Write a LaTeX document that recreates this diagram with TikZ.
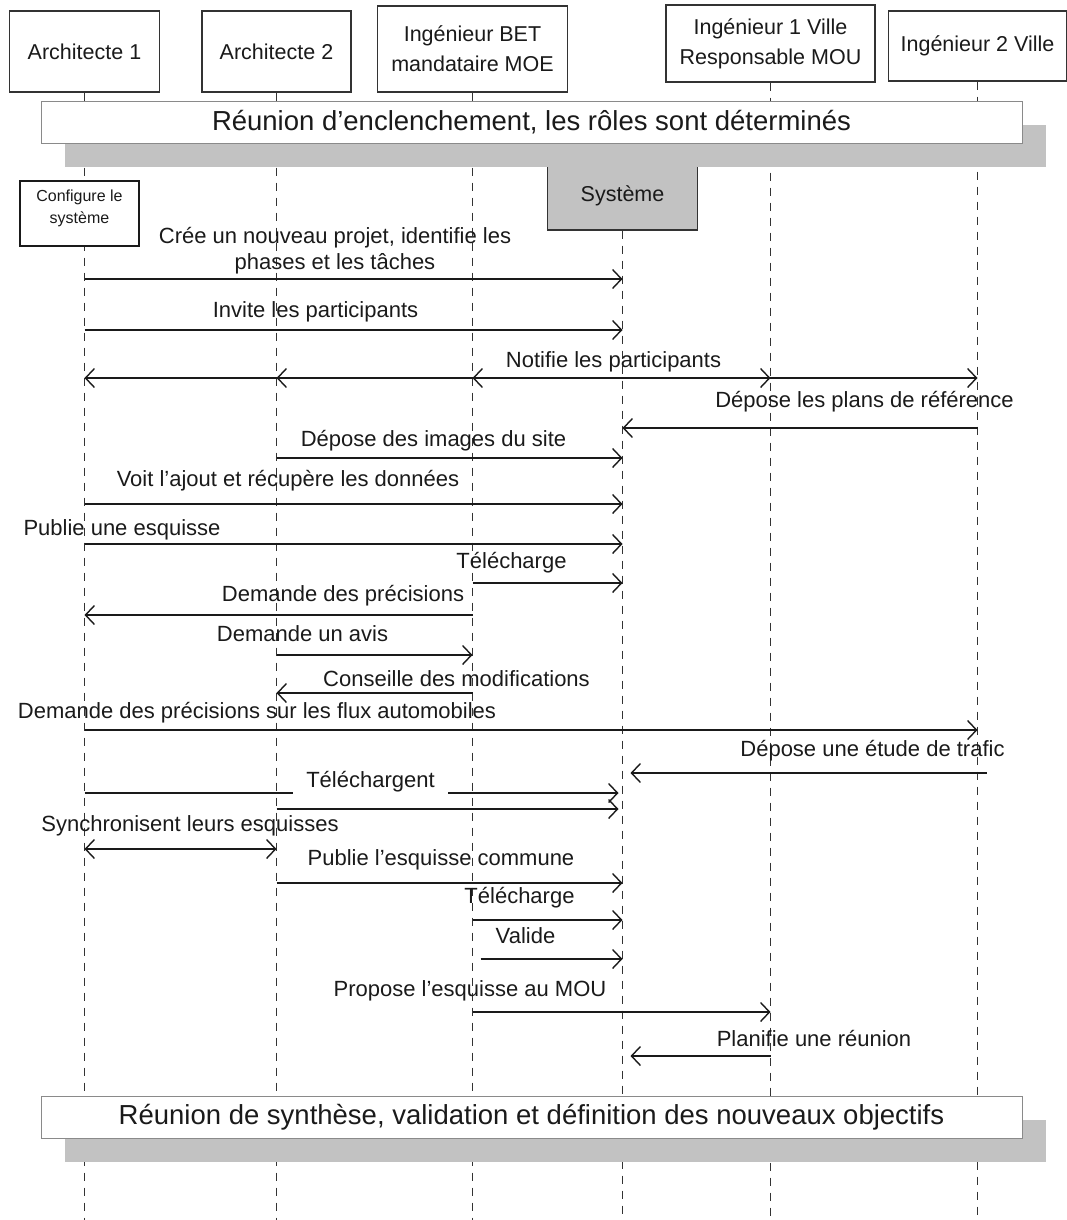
\documentclass[tikz,border=0pt]{standalone}
\usepackage{fontspec}
\setmainfont{Liberation Sans}
\usetikzlibrary{arrows.meta,shadows}
\definecolor{ink}{HTML}{1A1A1A}
\definecolor{boxline}{HTML}{333333}
\definecolor{meetline}{HTML}{8A8A8A}
\definecolor{shadowgray}{HTML}{C2C2C2}
\begin{document}
\begin{tikzpicture}[x=1pt,y=-1pt,
  hdr/.style={draw=boxline, line width=1.3pt, fill=white, align=center,
    font=\fontsize{21.5}{30}\selectfont, text=ink, inner sep=0pt},
  life/.style={draw=boxline, line width=1pt, dash pattern=on 8pt off 7pt},
  tip/.tip={Straight Barb[length=9pt,width=19pt,line width=1.4pt]},
  msg/.style={draw=ink, line width=1.5pt, -tip},
  dbl/.style={draw=ink, line width=1.5pt, tip-tip},
  lbl/.style={font=\fontsize{22}{26}\selectfont, text=ink, inner sep=0pt,
    text height=16pt, text depth=5pt},
  meet/.style={draw=meetline, line width=1pt, fill=white,
    font=\fontsize{27.5}{32}\selectfont, text=ink, inner sep=0pt,
    minimum width=981pt, minimum height=42pt,
    general shadow={fill=shadowgray, shadow xshift=23.5pt, shadow yshift=-23.5pt}}
]
\useasboundingbox (0,0) rectangle (1067,1220);

% actors
\node[hdr, minimum width=150pt, minimum height=81pt] (A1) at (84.5,51.5) {Architecte 1};
\node[hdr, minimum width=149pt, minimum height=81pt] (A2) at (276.5,51.5) {Architecte 2};
\node[hdr, minimum width=190pt, minimum height=86pt] (BET) at (472.5,49) {Ingénieur BET\\mandataire MOE};
\node[hdr, minimum width=209pt, minimum height=77pt] (I1) at (770.5,43.5) {Ingénieur 1 Ville\\Responsable MOU};
\node[hdr, minimum width=178pt, minimum height=70pt] (I2) at (977.5,46) {Ingénieur 2 Ville};
\node[hdr, fill=shadowgray, minimum width=150pt, minimum height=69pt] (Sys) at (622.5,195.5) {Système};

% lifelines
\draw[life] (A1.south) -- (A1 |- 0,1220);
\draw[life] (A2.south) -- (A2 |- 0,1220);
\draw[life] (BET.south) -- (BET |- 0,1220);
\draw[life] (I1.south) -- (I1 |- 0,1220);
\draw[life] (I2.south) -- (I2 |- 0,1220);
\draw[life] (Sys.south) -- (Sys |- 0,1220);

% meetings
\node[meet] (M1) at (531.5,122.5) {Réunion d’enclenchement, les rôles sont déterminés};
\node[meet] (M2) at (531.5,1117.5) {Réunion de synthèse, validation et définition des nouveaux objectifs};

% configure box
\node[draw=ink, line width=1.4pt, fill=white, minimum width=119pt, minimum height=65pt,
  inner sep=0pt, text=ink, font=\fontsize{16}{22}\selectfont] (Cfg) at (79.5,213.5)
  {\raisebox{-10pt}[0pt][0pt]{\begin{tabular}[b]{@{}c@{}}Configure le\\système\end{tabular}}};

% messages
\draw[msg] (A1 |- 0,279) -- (Sys |- 0,279);
\node[lbl, align=center, text height=, text depth=, font=\fontsize{22}{25.5}\selectfont] (t1) at (335,250.5) {Crée un nouveau projet, identifie les\\phases et les tâches};

\draw[msg] (A1 |- 0,330) -- (Sys |- 0,330);
\node[lbl] (t2) at (315.5,312) {Invite les participants};

\draw[msg] (Sys |- 0,378) -- (A1 |- 0,378);
\draw[msg] (Sys |- 0,378) -- (A2 |- 0,378);
\draw[msg] (Sys |- 0,378) -- (BET |- 0,378);
\draw[msg] (Sys |- 0,378) -- (I1 |- 0,378);
\draw[msg] (Sys |- 0,378) -- (I2 |- 0,378);
\node[lbl] (t3) at (613.5,362) {Notifie les participants};

\draw[msg] (I2 |- 0,428) -- (Sys |- 0,428);
\node[lbl] (t4) at (864.5,402) {Dépose les plans de référence};

\draw[msg] (A2 |- 0,458) -- (Sys |- 0,458);
\node[lbl] (t5) at (433.5,441) {Dépose des images du site};

\draw[msg] (A1 |- 0,504) -- (Sys |- 0,504);
\node[lbl] (t6) at (288,481) {Voit l’ajout et récupère les données};

\draw[msg] (A1 |- 0,544) -- (Sys |- 0,544);
\node[lbl] (t7) at (122,530) {Publie une esquisse};

\draw[msg] (BET |- 0,583) -- (Sys |- 0,583);
\node[lbl] (t8) at (511.5,563) {Télécharge};

\draw[msg] (BET |- 0,615) -- (A1 |- 0,615);
\node[lbl] (t9) at (343,596) {Demande des précisions};

\draw[msg] (A2 |- 0,655) -- (BET |- 0,655);
\node[lbl] (t10) at (302.5,636) {Demande un avis};

\draw[msg] (BET |- 0,693) -- (A2 |- 0,693);
\node[lbl] (t11) at (456.5,681) {Conseille des modifications};

\draw[msg] (A1 |- 0,730) -- (I2 |- 0,730);
\node[lbl] (t12) at (257,713) {Demande des précisions sur les flux automobiles};

\draw[msg] ([xshift=9pt]I2 |- 0,773) -- ([xshift=8pt]Sys |- 0,773);
\node[lbl] (t13) at (872.5,751) {Dépose une étude de trafic};

\draw[msg] (A1 |- 0,793) -- ([xshift=-4pt]Sys |- 0,793);
\draw[msg] (A2 |- 0,809) -- ([xshift=-4pt]Sys |- 0,809);
\node[lbl, fill=white, inner xsep=13pt, inner ysep=3pt] (t14) at (370.5,782) {Téléchargent};

\draw[dbl] (A1 |- 0,849) -- (A2 |- 0,849);
\node[lbl] (t15) at (190,826) {Synchronisent leurs esquisses};

\draw[msg] (A2 |- 0,883) -- (Sys |- 0,883);
\node[lbl] (t16) at (441,860) {Publie l’esquisse commune};

\draw[msg] (BET |- 0,920) -- (Sys |- 0,920);
\node[lbl] (t17) at (519.5,898) {Télécharge};

\draw[msg] ([xshift=8pt]BET |- 0,959) -- (Sys |- 0,959);
\node[lbl] (t18) at (525.5,938) {Valide};

\draw[msg] (BET |- 0,1012) -- (I1 |- 0,1012);
\node[lbl] (t19) at (470,991) {Propose l’esquisse au MOU};

\draw[msg] (I1 |- 0,1056) -- ([xshift=8pt]Sys |- 0,1056);
\node[lbl] (t20) at (814,1041) {Planifie une réunion};
\end{tikzpicture}
\end{document}
